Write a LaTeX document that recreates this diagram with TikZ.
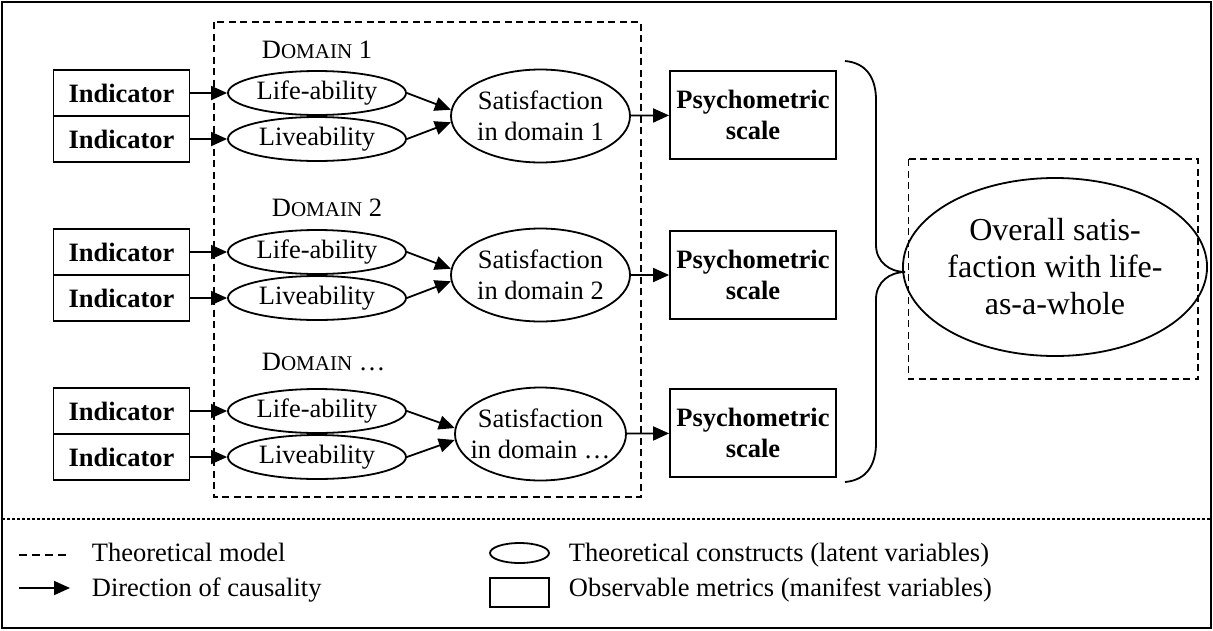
\documentclass[tikz,border=0pt]{standalone}
\usepackage{fontspec}
\setmainfont{Liberation Serif}
\usepackage{tikz}
\usetikzlibrary{shapes.geometric,arrows.meta}
\newcommand{\domlabel}[1]{D{\fontsize{21}{24}\selectfont OMAIN}~#1}

\begin{document}
\begin{tikzpicture}[x=1pt,y=-1pt,line width=1.8pt]
\tikzstyle{every node}+=[inner sep=0pt,font=\fontsize{26.5}{30.5}\selectfont]
\tikzstyle{indbox}=[draw,minimum width=136pt,minimum height=46pt,font=\fontsize{26.5}{30.5}\selectfont\bfseries]
\tikzstyle{latent}=[draw,ellipse,minimum width=178pt,minimum height=44pt]
\tikzstyle{satnode}=[draw,ellipse,minimum width=171pt,minimum height=93pt,align=center]
\tikzstyle{scalebox}=[draw,minimum width=166pt,minimum height=88pt,align=center,font=\fontsize{26.5}{30.5}\selectfont\bfseries]
\tikzstyle{cause}=[-{Triangle[length=16pt,width=14pt]}]
\tikzstyle{model}=[dash pattern=on 7pt off 4.5pt]
\useasboundingbox (0,0) rectangle (1213,630);
\draw [line width=2.2pt] (2,2) rectangle (1211,628);
\draw [model] (214,22) rectangle (641,497);
\draw [model] (908.5,159) rectangle (1198,379);
\node [anchor=west] (dom1) at (261,50) {\domlabel{1}};
\node [indbox] (ind1a) at (121.5,93) {Indicator};
\node [indbox] (ind1b) at (121.5,139) {Indicator};
\node [latent] (life1) at (317,93) {Life-ability};
\node [latent] (live1) at (317,139) {Liveability};
\node [satnode] (sat1) at (540.5,116) {Satisfaction\\in domain 1};
\node [scalebox] (psy1) at (753,115) {Psychometric\\scale};
\draw [cause] (ind1a) -- (life1);
\draw [cause] (ind1b) -- (live1);
\draw [cause] (life1.east) -- (sat1.176);
\draw [cause] (live1.east) -- (sat1.184);
\draw [cause] (sat1) -- (psy1);
\node [anchor=west] (dom2) at (271,208) {\domlabel{2}};
\node [indbox] (ind2a) at (121.5,252) {Indicator};
\node [indbox] (ind2b) at (121.5,298) {Indicator};
\node [latent] (life2) at (317,252) {Life-ability};
\node [latent] (live2) at (317,298) {Liveability};
\node [satnode] (sat2) at (540.5,275) {Satisfaction\\in domain 2};
\node [scalebox] (psy2) at (753,275) {Psychometric\\scale};
\draw [cause] (ind2a) -- (life2);
\draw [cause] (ind2b) -- (live2);
\draw [cause] (life2.east) -- (sat2.176);
\draw [cause] (live2.east) -- (sat2.184);
\draw [cause] (sat2) -- (psy2);
\node [anchor=west] (dom3) at (261,362) {\domlabel{…}};
\node [indbox] (ind3a) at (121.5,411) {Indicator};
\node [indbox] (ind3b) at (121.5,457) {Indicator};
\node [latent] (life3) at (317,411) {Life-ability};
\node [latent] (live3) at (317,457) {Liveability};
\node [satnode] (sat3) at (540.5,434) {\makebox[110pt]{Satisfaction}\\\makebox[110pt]{in domain …}};
\node [scalebox] (psy3) at (753,433) {Psychometric\\scale};
\draw [cause] (ind3a) -- (life3);
\draw [cause] (ind3b) -- (live3);
\draw [cause] (life3.east) -- (sat3.176);
\draw [cause] (live3.east) -- (sat3.184);
\draw [cause] (sat3) -- (psy3);
\draw (845,61) .. controls (868,63) and (876,80) .. (876,100) -- (876,245)
  .. controls (876,262) and (890,272) .. (905,272)
  .. controls (890,272) and (876,282) .. (876,299) -- (876,443)
  .. controls (876,463) and (868,480) .. (845,482);
\node [draw,ellipse,minimum width=282pt,minimum height=178pt,align=center,font=\fontsize{32}{37}\selectfont] (whole) at (1055,267) {Overall satis-\\faction with life-\\as-a-whole};
\draw [line width=1.2pt,dash pattern=on 3pt off 2pt] (2,519) -- (1211,519);
\coordinate (dashA) at (19,555);
\coordinate (dashB) at (70,555);
\draw [dash pattern=on 8pt off 5pt] (dashA) -- (dashB);
\node [anchor=base west] (tmodel) at (91,561) {Theoretical model};
\coordinate (arrA) at (19,588);
\coordinate (arrB) at (70,588);
\draw [cause] (arrA) -- (arrB);
\node [anchor=base west] (dcause) at (91,596) {Direction of causality};
\node [draw,ellipse,minimum width=59pt,minimum height=20pt] (legell) at (519.5,553) {};
\node [anchor=base west] (tcons) at (568,561) {Theoretical constructs (latent variables)};
\node [draw,minimum width=59pt,minimum height=29pt] (legbox) at (519.5,592.5) {};
\node [anchor=base west] (omet) at (568,596) {Observable metrics (manifest variables)};
\end{tikzpicture}
\end{document}
